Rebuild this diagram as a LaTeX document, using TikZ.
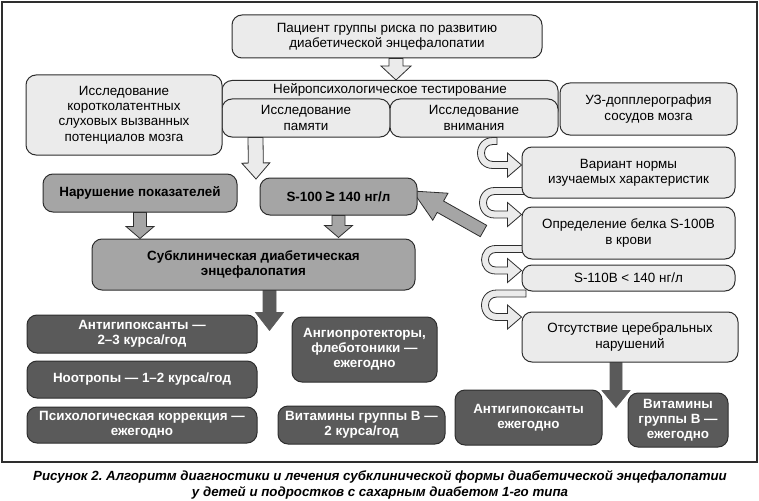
\documentclass[tikz,border=0pt]{standalone}
\usepackage{fontspec}
\setmainfont{Liberation Sans}
\usetikzlibrary{calc}
\frenchspacing
\pgfdeclarelayer{back}
\pgfdeclarelayer{bg}
\pgfsetlayers{back,bg,main}
\definecolor{lfill}{HTML}{EBEBEB}
\definecolor{mfill}{HTML}{A5A5A5}
\definecolor{dfill}{HTML}{5A5A5A}
\definecolor{edge}{HTML}{2E2E2E}
\tikzset{
  box/.style={draw=edge, line width=1pt, rounded corners=10pt, inner sep=2pt, align=center,
    font=\fontsize{13.4}{15.2}\selectfont},
  lbox/.style={box, fill=lfill},
  mbox/.style={box, fill=mfill, font=\fontsize{13.4}{15.2}\selectfont\bfseries},
  dbox/.style={box, fill=dfill, text=white, font=\fontsize{13.4}{15.2}\selectfont\bfseries},
  hollow/.style={draw=edge, fill=lfill, line width=0.8pt},
  midarrow/.style={draw=edge, fill=mfill, line width=0.8pt},
  darkarrow/.style={draw=dfill, fill=dfill, line width=0.6pt},
  curlst/.style={draw=edge, fill=lfill, line width=0.8pt},
  frame/.style={draw=edge, line width=1.6pt},
  caption/.style={align=center, font=\fontsize{13.3}{16}\selectfont\bfseries\itshape}
}
% box by corners: style, name, x1, y1, x2, y2, text
\newcommand\bx[7]{\node[#1, minimum width={(#5-#3)*1pt}, minimum height={(#6-#4)*1pt}]
  (#2) at ({(#3+#5)/2},{(#4+#6)/2}) {#7};}
% block arrow: style, from, to, half shaft, half head, head length
\newcommand\blk[6]{\path[#1] let \p1=#2, \p2=#3, \p3=($(\p2)!#6pt!(\p1)$) in
  ($(\p1)!#4pt!90:(\p2)$) -- ($(\p3)!#4pt!90:(\p2)$) -- ($(\p3)!#5pt!90:(\p2)$) -- (\p2)
  -- ($(\p3)!#5pt!-90:(\p2)$) -- ($(\p3)!#4pt!-90:(\p2)$) -- ($(\p1)!#4pt!-90:(\p2)$) -- cycle;}
% curled ribbon arrow: tail, tip, leftmost x of centre line
\newcommand\curl[3]{\path[curlst] let \p1=#1, \p2=#2, \n1={((\y1)-(\y2))/2}, \n2={#3+\n1} in
  (\x1,\y1+3.5pt) -- ({\n2*1pt},\y1+3.5pt)
  .. controls ({(\n2-1.333*(\n1+3.5))*1pt},\y1+3.5pt) and ({(\n2-1.333*(\n1+3.5))*1pt},\y2-3.5pt) .. ({\n2*1pt},\y2-3.5pt)
  -- (\x2-14pt,\y2-3.5pt) -- (\x2-14pt,\y2-12pt) -- (\x2,\y2) -- (\x2-14pt,\y2+12pt) -- (\x2-14pt,\y2+3.5pt)
  -- ({\n2*1pt},\y2+3.5pt)
  .. controls ({(\n2-1.333*(\n1-3.5))*1pt},\y2+3.5pt) and ({(\n2-1.333*(\n1-3.5))*1pt},\y1-3.5pt) .. ({\n2*1pt},\y1-3.5pt)
  -- (\x1,\y1-3.5pt) -- cycle;}

\begin{document}
\begin{tikzpicture}[x=1pt,y=-1pt]
\useasboundingbox (0,0) rectangle (759,500);
\begin{pgfonlayer}{back}
\fill[white] (0,0) rectangle (759,500);
\end{pgfonlayer}
\draw[frame] (2,2) rectangle (757,462);

% ---------- boxes ----------
\bx{lbox}{patient}{232}{15}{542}{58}{Пациент группы риска по развитию\\диабетической энцефалопатии}
\node[lbox, anchor=north, minimum width=336pt, text height=11pt, text depth=25pt, inner ysep=2pt]
  (nps) at (390,80) {Нейропсихологическое тестирование};
\bx{lbox}{memory}{222}{99}{390}{137}{Исследование\\памяти}
\bx{lbox}{attn}{390}{99}{558}{137}{Исследование\\внимания}
\bx{lbox}{kslvp}{26}{75}{222}{155}{Исследование\\коротколатентных\\слуховых вызванных\\потенциалов мозга}
\bx{lbox}{uzd}{560}{83}{737}{135}{УЗ-допплерография\\сосудов мозга}

\bx{mbox}{narush}{43}{174}{237}{212}{Нарушение показателей}
\bx{mbox}{s100}{260}{178}{417}{215}{S-100 {\fontsize{16}{16}\selectfont≥} 140 нг/л}
\bx{mbox}{subkl}{92}{239}{415}{290}{Субклиническая диабетическая\\энцефалопатия}

\bx{lbox}{variant}{522}{147}{735}{198}{Вариант нормы\\изучаемых характеристик}
\bx{lbox}{opred}{522}{207}{735}{259}{Определение белка S-100B\\в крови}
\bx{lbox}{s110}{522}{265}{735}{291}{S-110B < 140 нг/л}
\bx{lbox}{otsut}{522}{312}{738}{362}{Отсутствие церебральных\\нарушений}

\bx{dbox}{ag1}{27}{315}{257}{353}{Антигипоксанты —\\2–3 курса/год}
\bx{dbox}{noot}{27}{361}{257}{398}{Ноотропы — 1–2 курса/год}
\bx{dbox}{psych}{27}{407}{257}{443}{Психологическая коррекция —\\ежегодно}
\bx{dbox}{angio}{292}{317}{437}{382}{Ангиопротекторы,\\флеботоники —\\ежегодно}
\bx{dbox}{vitB1}{278}{406}{445}{444}{Витамины группы В —\\2 курса/год}
\bx{dbox}{ag2}{455}{390}{602}{445}{Антигипоксанты\\ежегодно}
\bx{dbox}{vitB2}{628}{393}{728}{447}{Витамины\\группы В —\\ежегодно}

\node[caption] (cap) at (380,485) {Рисунок 2. Алгоритм диагностики и лечения субклинической формы диабетической энцефалопатии\\у детей и подростков с сахарным диабетом 1-го типа};

% ---------- connectors (under the boxes) ----------
\coordinate (t1) at (497,141);
\coordinate (t2) at (526,191);
\coordinate (t3) at (526,249);
\coordinate (t4) at (526,293.5);
\coordinate (m2) at (256,179);

\begin{pgfonlayer}{bg}
\blk{hollow}{($(patient.south)+(9,0)$)}{($(nps.north)+(6,0)$)}{7}{15}{14}
\blk{hollow}{($(memory.south west)+(34,0)$)}{(m2)}{7.5}{14}{16}
\blk{midarrow}{(narush.south)}{(narush.south |- subkl.north)}{6.5}{14}{12}
\blk{midarrow}{(s100.south)}{($(s100.south |- subkl.north)+(0,-1)$)}{6.5}{14}{12}
\blk{midarrow}{($(opred.west)+(-38,-2)$)}{($(s100.east)+(-5,-5.5)$)}{6.5}{15.5}{32}
\blk{darkarrow}{($(subkl.south)+(16,0)$)}{($(subkl.south)+(16,40)$)}{6.5}{14}{18}
\blk{darkarrow}{($(otsut.south)+(-14,0)$)}{($(otsut.south)+(-14,45)$)}{6}{14}{17}

\curl{(t1)}{($(variant.west)+(0,-7.5)$)}{481}
\curl{(t2)}{($(opred.north west)+(0,8)$)}{483}
\curl{(t3)}{($(s110.north west)+(0,6)$)}{485}
\curl{(t4)}{($(otsut.north west)+(0,5.5)$)}{485}
\end{pgfonlayer}
\end{tikzpicture}
\end{document}
